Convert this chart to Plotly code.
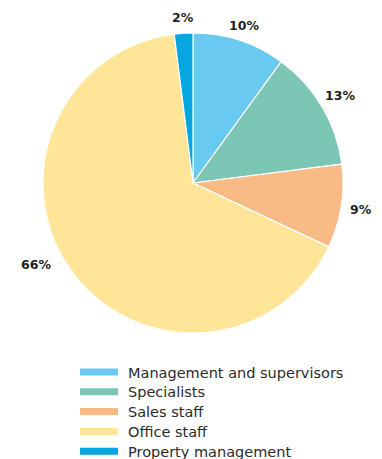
import math
import plotly.graph_objects as go

# Staff structure by personnel group, share of total (%)
categories = ["Management and supervisors", "Specialists", "Sales staff",
              "Office staff", "Property management"]
shares = [10, 13, 9, 66, 2]
colors = ["#6AC9F0", "#7BC6B4", "#F9BB85", "#FEE598", "#06A6E1"]

W, H = 382, 459
# pie geometry in pixels
CX, CY, R = 193, 183, 150
LABEL_R = 166
# small per-label tweaks (degrees, pixels)
label_nudge = {1: (0, 5), 2: (0, 4), 3: (8.5, 11)}

fig = go.Figure()
fig.add_trace(go.Pie(
    labels=categories,
    values=shares,
    sort=False,
    direction="clockwise",
    rotation=0,
    marker=dict(colors=colors, line=dict(color="white", width=1.2)),
    textinfo="none",
    hoverinfo="label+percent",
    showlegend=False,
    domain=dict(x=[(CX - R) / W, (CX + R) / W],
                y=[1 - (CY + R) / H, 1 - (CY - R) / H]),
))

# percentage labels outside each slice, placed at the slice's mid-angle
total = sum(shares)
start = 0.0
for i, v in enumerate(shares):
    mid = start + v / total * 360 / 2
    start += v / total * 360
    d_ang, d_r = label_nudge.get(i, (0, 0))
    a = math.radians(mid + d_ang)
    r = LABEL_R + d_r
    px = CX + r * math.sin(a)
    py = CY - r * math.cos(a)
    fig.add_annotation(xref="paper", yref="paper", x=px / W, y=1 - py / H,
                       text=f"<b>{v}%</b>", showarrow=False,
                       xanchor="center", yanchor="middle",
                       font=dict(family="DejaVu Sans", size=12.5,
                                 color="#231F20"))

# legend drawn as wide colour bars with labels beside them
row0, step = 372, 19.8
for i, (name, col) in enumerate(zip(categories, colors)):
    yc = row0 + i * step
    fig.add_shape(type="rect", xref="paper", yref="paper",
                  x0=80 / W, x1=118 / W,
                  y0=1 - (yc + 3.5) / H, y1=1 - (yc - 3.5) / H,
                  fillcolor=col, line=dict(width=0))
    fig.add_annotation(xref="paper", yref="paper", x=126 / W,
                       y=1 - (yc + 0.5) / H,
                       text=name, showarrow=False, xanchor="left",
                       yanchor="middle",
                       font=dict(family="DejaVu Sans", size=14.5,
                                 color="#2B2B2B"))

fig.update_layout(width=W, height=H, margin=dict(l=0, r=0, t=0, b=0),
                  paper_bgcolor="white", plot_bgcolor="white")
fig.write_html("out.html")
